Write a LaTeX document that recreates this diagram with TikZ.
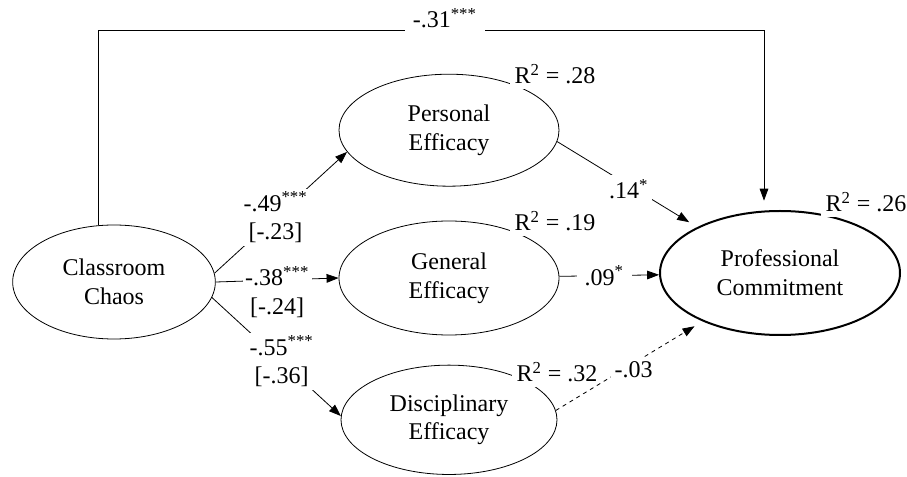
\documentclass[tikz,border=0pt]{standalone}
\usepackage{fontspec}
\setmainfont{Liberation Serif}
\usetikzlibrary{arrows.meta,positioning,shapes.geometric}

\begin{document}
\begin{tikzpicture}[
  x=0.75pt, y=-0.75pt,
  >={Triangle[length=9pt, width=6.5pt]},
  every node/.style={font=\fontsize{18}{21.5}\selectfont, align=center},
  latent/.style={draw, ellipse, line width=0.6pt, inner sep=0pt, minimum width=165pt, minimum height=84pt},
  outcome/.style={latent, line width=1.5pt, minimum width=180pt, minimum height=93pt},
  coef/.style={fill=white, inner sep=2pt},
  rsq/.style={fill=white, inner sep=3.5pt},
  arrow/.style={->, line width=0.6pt, color=black}
]
\useasboundingbox (0,0) rectangle (907,477);

\node[latent, minimum width=152pt, minimum height=85.5pt] (chaos) at (114,282) {Classroom\\Chaos};
\node[latent, minimum height=85.5pt] (gen) at (449,278) {General\\Efficacy};
\node[latent, above=25.5pt of gen] (pers) {Personal\\Efficacy};
\node[latent, minimum width=162pt, minimum height=82pt, below=22pt of gen] (disc) {Disciplinary\\Efficacy};
\node[outcome] (commit) at (780,273) {Professional\\Commitment};

\node[rsq] (r2pers) at (555,74) {R\textsuperscript{2} = .28};
\node[rsq] (r2gen) at (555,221) {R\textsuperscript{2} = .19};
\node[rsq] (r2disc) at (557,372) {R\textsuperscript{2} = .32};
\node[rsq] (r2commit) at (866,202) {R\textsuperscript{2} = .26};

\coordinate (topR) at (764,30);

\draw[arrow, shorten >=7pt] (chaos.105) |- node[coef, pos=.76, anchor=base, yshift=1.5pt, inner xsep=6pt] (c31) {-.31\textsuperscript{***}} (topR) -- (topR |- commit.north);
\draw[arrow] (chaos.5) -- node[coef, pos=.46] (c49) {-.49\textsuperscript{***}\\{}[-.23]} (pers.192);
\draw[arrow] (chaos.east) -- node[coef, yshift=-9pt] (c38) {-.38\textsuperscript{***}\\{}[-.24]} (gen.west);
\draw[arrow] (chaos.-9) -- node[coef, pos=.54] (c55) {-.55\textsuperscript{***}\\{}[-.36]} (disc.178);
\draw[arrow, shorten >=7pt] (pers.-6) -- node[coef, pos=.51, yshift=-3pt, inner sep=3pt] (c14) {.14\textsuperscript{*}} (commit.151);
\draw[arrow] (gen) -- node[coef, pos=.45, inner xsep=6pt] (c09) {.09\textsuperscript{*}} (commit);
\draw[arrow, dashed, shorten >=7pt] (disc.5) -- node[coef, pos=.53, yshift=-5pt, inner sep=3pt] (c03) {-.03} (commit.212);

\end{tikzpicture}
\end{document}
